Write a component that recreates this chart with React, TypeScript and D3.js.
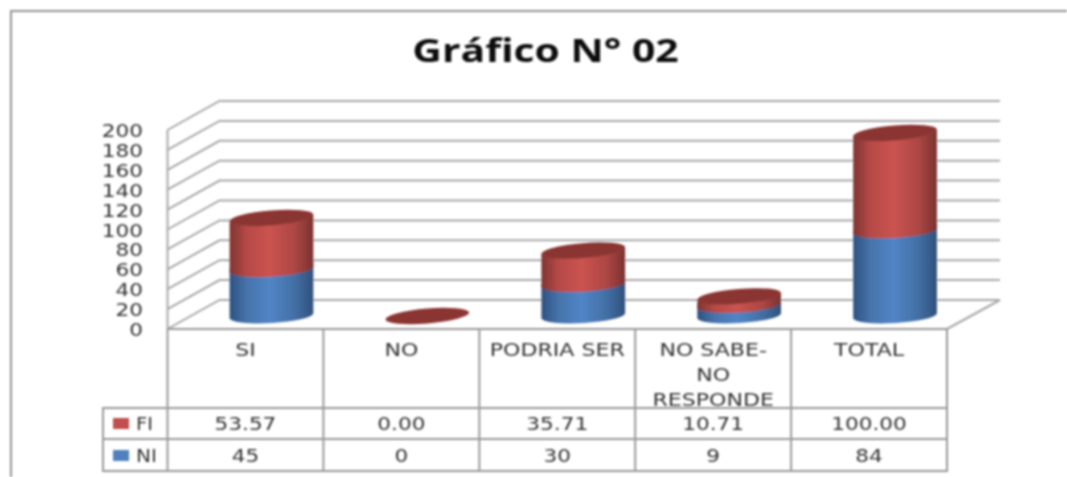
import React from "react";
import * as d3 from "d3";

const categories = [["SI"], ["NO"], ["PODRIA SER"], ["NO SABE-", "NO", "RESPONDE"], ["TOTAL"]];
const niValues = [45, 0, 30, 9, 84];
const fiValues = [53.57, 0, 35.71, 10.71, 100];
const fiLabels = ["53.57", "0.00", "35.71", "10.71", "100.00"];
const niLabels = ["45", "0", "30", "9", "84"];
const ticks = d3.range(0, 201, 20);

const W = 1067, H = 477;
const FONT = "'DejaVu Sans', sans-serif";
const GRID = "#a8a8a8";
const TEXT = "#333";
const left = 167.5, right = 947, floorY = 329;
const DX = 52, DY = -29;
const tilt = (-4.8 * Math.PI) / 180;
const rx = 42, ry = 7.5;
const ax = rx * Math.cos(tilt), ay = rx * Math.sin(tilt);
const lowHalf = 2.5; // the lower rims lean a little less than the tops

const x = d3.scaleBand<number>().domain(d3.range(categories.length)).range([left, right]);
const y = d3.scaleLinear().domain([0, 200]).range([floorY, 130]);
const rowTop = 408, rowMid = 439, rowBottom = 471, tableLeft = 103;

function body(cx: number, yBottom: number, yTop: number) {
  return `M${cx - ax},${yBottom + lowHalf} A${rx},${ry} -3.4 0 0 ${cx + ax},${yBottom - lowHalf} L${cx + ax},${yTop + ay} A${rx},${ry} -4.8 0 1 ${cx - ax},${yTop - ay} Z`;
}

function Stops({ c }: { c: string[] }) {
  return (
    <>
      <stop offset="0" stopColor={c[0]} />
      <stop offset="0.2" stopColor={c[1]} />
      <stop offset="0.48" stopColor={c[2]} />
      <stop offset="0.78" stopColor={c[3]} />
      <stop offset="1" stopColor={c[4]} />
    </>
  );
}

function Txt({ px, py, sx = 1.27, size = 17, anchor = "middle", children }: any) {
  return (
    <text
      transform={`translate(${px},${py}) scale(${sx},1)`}
      textAnchor={anchor}
      fontFamily={FONT}
      fontSize={size}
      fill={TEXT}
    >
      {children}
    </text>
  );
}

export default function App() {
  const lift = 13.5; // the cylinders stand this far behind the front edge of the floor
  return (
    <svg width={W} height={H} viewBox={`0 0 ${W} ${H}`} style={{ position: "absolute", left: 0, top: 0, background: "#fff" }}>
      <defs>
        <filter id="soft" x="-5%" y="-5%" width="110%" height="110%">
          <feGaussianBlur stdDeviation="0.8" />
        </filter>
        <linearGradient id="red"><Stops c={["#7f3432", "#b44a47", "#cb5350", "#ac4744", "#7a3230"]} /></linearGradient>
        <linearGradient id="blue"><Stops c={["#2f5180", "#4673aa", "#5285c6", "#426fa5", "#30507b"]} /></linearGradient>
      </defs>
      <g filter="url(#soft)">
        <path d={`M11,477 V11 H1067`} fill="none" stroke="#949494" strokeWidth={2} />
        <text transform="translate(545.5,62) scale(1.24,1)" textAnchor="middle" fontFamily="'Open Sans', sans-serif" fontWeight={700} fontSize={33} fill="#111">Gráfico N° 02</text>

        {/* walls and gridlines */}
        {ticks.map((t) => (
          <path key={t} d={`M${left},${y(t)} L${left + DX},${y(t) + DY} H${right + DX + 1}`} fill="none" stroke={GRID} strokeWidth={2} />
        ))}
        <path d={`M${left},${y(200)} V${floorY}`} stroke={GRID} strokeWidth={2} fill="none" />
        <path d={`M${right},${floorY} L${right + DX + 1},${floorY + DY}`} stroke={GRID} strokeWidth={2} fill="none" />
        {ticks.map((t) => (
          <Txt key={t} px={143} py={y(t) + 7} anchor="end">{t}</Txt>
        ))}

        {/* cylinders */}
        {categories.map((_, i) => {
          const cx = x(i)! + x.bandwidth() / 2 + DX / 2;
          const yOf = (v: number) => y(v) - lift;
          const ni = niValues[i], total = ni + fiValues[i];
          return (
            <g key={i}>
              {/* the blue body runs a little under the red one so that no gap shows at the seam */}
              {ni > 0 && <path d={body(cx, yOf(0) + 0.5, yOf(ni) - 6)} fill="url(#blue)" />}
              {total > ni && <path d={body(cx, yOf(ni) - 1, yOf(total))} fill="url(#red)" />}
              <ellipse cx={0} cy={0} rx={rx} ry={ry} fill="#8b3533" transform={`translate(${cx},${yOf(total) + 0.5}) rotate(-4.8)`} />
            </g>
          );
        })}

        {/* data table */}
        <g fill="none" stroke="#999" strokeWidth={2}>
          <path d={`M${left},${floorY} H${right} V${rowBottom} H${tableLeft} V${rowTop} H${right} M${tableLeft},${rowMid} H${right}`} />
          {d3.range(categories.length).map((i) => (
            <path key={i} d={`M${x(i)},${floorY} V${rowBottom}`} />
          ))}
        </g>
        {categories.map((lines, i) =>
          lines.map((line, j) => (
            <Txt key={`${i}-${j}`} px={x(i)! + x.bandwidth() / 2} py={355.5 + j * 25} sx={1.3}>{line}</Txt>
          ))
        )}
        {categories.map((_, i) => (
          <g key={i}>
            <Txt px={x(i)! + x.bandwidth() / 2} py={430}>{fiLabels[i]}</Txt>
            <Txt px={x(i)! + x.bandwidth() / 2} py={461.5}>{niLabels[i]}</Txt>
          </g>
        ))}
        <rect x={113} y={418} width={16} height={11} fill="#c0504d" />
        <rect x={113} y={450} width={16} height={11} fill="#4f81bd" />
        <Txt px={136} py={430} anchor="start" sx={1.15}>FI</Txt>
        <Txt px={136} py={461.5} anchor="start" sx={1.18}>NI</Txt>
      </g>
    </svg>
  );
}
